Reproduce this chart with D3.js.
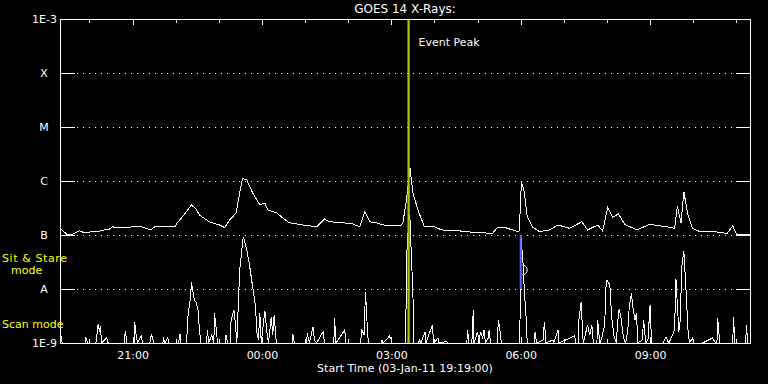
<!DOCTYPE html>
<html>
<head>
<meta charset="utf-8">
<script src="https://cdn.jsdelivr.net/npm/d3@7"></script>
<style>
  html, body { margin: 0; padding: 0; background: #000; }
  svg { display: block; color: #fff; }
  text { font-family: "DejaVu Sans", sans-serif; fill: #fff; }
</style>
</head>
<body>
<div id="grafica"></div>
<script>
var titulo = "GOES 14 X-Rays:";
var xTitulo = "Start Time (03-Jan-11 19:19:00)";
var startTime = new Date("2011-01-03T19:19:00Z");
var endMinute = 960;

var classLabels = ["1E-9", "A", "B", "C", "M", "X", "1E-3"];
var classFlux = [1e-9, 1e-8, 1e-7, 1e-6, 1e-5, 1e-4, 1e-3];

var eventPeakMinute = 485;
var eventLabel = "Event Peak";
var markerMinute = 641;
var markerRange = [1e-8, 1e-7];
var markerInner = [1e-8, 3.9e-8];
var markerPoint = 2.25e-8;
var modeLabels = ["Sit & Stare", "mode", "Scan mode"];

// [minutes after start, flux in 1e-9 W/m^2]
var longChannel = [[0,135],[4,119],[11,100],[19,105],[27,120],[34,110],[44,115],[52,115],[62,124],[69,129],[73,142],[80,135],[86,135],[100,141],[114,141],[122,129],[128,129],[132,142],[160,142],[162,160],[170,215],[176,270],[183,360],[189,303],[194,235],[201,202],[208,176],[222,153],[229,137],[236,190],[245,255],[250,600],[254,1120],[260,1040],[268,600],[278,360],[285,390],[289,290],[301,260],[310,206],[319,169],[338,153],[357,142],[368,198],[375,176],[393,169],[407,160],[417,142],[424,270],[431,176],[441,167],[455,147],[473,147],[477,167],[482,445],[487,1720],[491,600],[498,290],[507,142],[518,147],[531,124],[556,119],[580,110],[602,108],[609,139],[621,135],[637,115],[639,119],[642,970],[646,634],[650,218],[657,142],[667,115],[681,124],[693,153],[709,133],[726,176],[734,124],[748,153],[755,119],[762,320],[769,215],[777,245],[786,156],[803,124],[820,158],[844,142],[855,133],[859,344],[864,167],[868,634],[873,255],[880,133],[890,116],[914,114],[928,107],[936,147],[941,104],[960,100]];

var shortChannel = [[0,1.53],[2,1.24],[3,1],[35,1],[36,1.24],[39,1],[50,1],[53,2.2],[55,1.6],[56,2.07],[58,1],[65,1.24],[67,1],[89,1],[91,1.67],[93,1],[103,1],[104,2.42],[106,1.35],[108,1],[113,1.35],[115,1],[125,1],[127,1.41],[129,1.24],[130,1],[143,1],[144,1.19],[146,1],[150,1.24],[151,1],[165,1],[167,1.47],[168,1],[176,1],[178,3.07],[181,6.25],[183,13.2],[185,8.9],[187,6.25],[190,5.5],[191,4.4],[192,4.1],[194,1.74],[196,1],[204,1],[205,1.74],[207,1],[211,1.41],[214,1],[215,3.55],[218,1.53],[219,1],[230,1],[231,1.41],[233,1],[237,1],[238,2.67],[242,4.1],[244,2.32],[246,1],[250,22.5],[255,93],[260,52.7],[264,25.9],[268,11],[272,4.7],[274,1.53],[276,1.14],[278,3.64],[280,1],[285,3.96],[288,1.53],[290,1],[294,3.07],[296,1.41],[298,3.3],[301,1],[323,1],[324,1.45],[326,1],[343,1],[344,1.51],[347,1],[352,2.0],[354,1.14],[357,1],[366,1.62],[368,1],[381,1],[382,2.87],[384,1],[396,1.74],[398,1],[418,1],[420,1.74],[423,1.41],[425,8.9],[428,1.53],[429,1],[447,1],[448,1.14],[449,1],[456,1.22],[458,1.35],[461,1.14],[462,1],[481,1],[482,34.4],[484,100],[486,235],[487,190],[489,34.4],[491,9.6],[492,1],[499,1],[500,1.14],[502,1],[508,1.62],[509,1],[518,2.15],[520,1],[526,1.24],[527,1],[538,1.07],[539,1],[566,1],[567,1.74],[569,1],[573,1],[575,4.1],[576,1],[581,1.62],[583,1],[585,1.6],[588,1.24],[590,1.74],[592,1],[596,1.24],[597,1.74],[599,1],[608,1],[610,2.67],[612,1.74],[614,1],[639,1],[640,2.48],[641,100],[644,34.4],[646,9.6],[649,2.32],[650,1],[660,1],[661,1.62],[663,1],[672,1.14],[674,2.48],[676,1],[686,1.14],[687,1],[693,1.74],[694,1],[716,1.35],[718,1],[721,1],[722,2.67],[725,5.7],[727,1.74],[728,1],[734,2.15],[737,1.41],[740,2.15],[742,1],[747,1],[748,2.67],[751,1],[753,1.14],[758,2.15],[759,9.6],[761,14.7],[765,11.9],[766,6.25],[768,2.67],[771,1.29],[774,1],[776,2.59],[778,4.26],[781,2.67],[784,1.24],[787,1],[790,1.74],[792,4.7],[795,8.3],[797,4.7],[800,2.67],[802,3.55],[804,1],[810,1.14],[812,2.67],[815,1],[818,1.14],[821,5.06],[823,1],[839,1],[843,1.29],[847,1],[853,1.47],[855,1.74],[857,15.1],[861,1.62],[863,2.67],[865,25.9],[868,50.6],[871,9.6],[874,1.53],[876,1],[880,1.24],[882,1],[894,1],[908,1.24],[912,1],[914,1],[915,2.87],[918,1],[936,1],[937,3.07],[939,1],[954,1],[955,2.15],[957,1],[960,1]];

var ancho = 768, alto = 384;
var margen = { left: 60, right: 18, top: 19, bottom: 41 };

var svg = d3.select("#grafica").append("svg")
    .attr("width", ancho)
    .attr("height", alto);

svg.append("rect")
    .attr("width", ancho)
    .attr("height", alto)
    .attr("fill", "#000");

function tiempo(m) { return d3.utcMinute.offset(startTime, m); }

var x = d3.scaleUtc()
    .domain([startTime, tiempo(endMinute)])
    .range([margen.left, ancho - margen.right]);

var y = d3.scaleLog()
    .domain([classFlux[0], classFlux[classFlux.length - 1]])
    .range([alto - margen.bottom, margen.top]);

var x0 = margen.left, x1 = ancho - margen.right;
var y0 = alto - margen.bottom, y1 = margen.top;

// dotted grid at the class levels
svg.append("g").selectAll("line")
    .data(classFlux.slice(1, -1))
    .enter().append("line")
    .attr("x1", x0 + 17)
    .attr("x2", x1 - 14)
    .attr("y1", function (d) { return Math.round(y(d)) + 0.5; })
    .attr("y2", function (d) { return Math.round(y(d)) + 0.5; })
    .attr("stroke", "#fff")
    .attr("stroke-dasharray", "1,5")
    .attr("shape-rendering", "crispEdges");

svg.append("clipPath").attr("id", "recorte")
    .append("rect")
    .attr("x", x0).attr("y", y1)
    .attr("width", x1 - x0).attr("height", y0 - y1 + 1);

var linea = d3.line()
    .x(function (d) { return x(tiempo(d[0])); })
    .y(function (d) { return y(d[1] * 1e-9); });

var datos = svg.append("g").attr("clip-path", "url(#recorte)");

[shortChannel, longChannel].forEach(function (serie) {
    datos.append("path")
        .datum(serie)
        .attr("d", linea)
        .attr("fill", "none")
        .attr("stroke", "#fff")
        .attr("stroke-width", 1)
        .attr("shape-rendering", "crispEdges");
});

// event peak line
var xPeak = x(tiempo(eventPeakMinute));
svg.append("line")
    .attr("x1", xPeak).attr("x2", xPeak)
    .attr("y1", y1).attr("y2", y0)
    .attr("stroke", "#9acd00")
    .attr("stroke-width", 2.3);

svg.append("text")
    .attr("x", xPeak + 10)
    .attr("y", 46)
    .attr("font-size", 11)
    .text(eventLabel);

// sit & stare marker
var xMark = x(tiempo(markerMinute));
svg.append("line")
    .attr("x1", xMark).attr("x2", xMark)
    .attr("y1", y(markerRange[1])).attr("y2", y(markerRange[0]))
    .attr("stroke", "#6666ff")
    .attr("stroke-width", 2);
svg.append("line")
    .attr("x1", xMark + 0.8).attr("x2", xMark + 0.8)
    .attr("y1", y(markerInner[1])).attr("y2", y(markerInner[0]))
    .attr("stroke", "#d000d0")
    .attr("stroke-width", 1);
var semi = d3.path();
semi.arc(xMark + 1.5, y(markerPoint), 5, -Math.PI / 2, Math.PI / 2);
svg.append("path")
    .attr("d", semi.toString())
    .attr("fill", "none")
    .attr("stroke", "#fff");

// axes
var fmt = d3.utcFormat("%H:%M");
var hora = d3.utcHour.every(1);

var ejeArriba = svg.append("g")
    .attr("transform", "translate(0," + y1 + ")")
    .call(d3.axisBottom(x).ticks(hora).tickSize(4).tickFormat(""));
ejeArriba.selectAll(".tick line")
    .attr("y2", function (d) { return d.getUTCHours() % 3 === 0 ? 6 : 4; });

var ejeAbajo = svg.append("g")
    .attr("transform", "translate(0," + y0 + ")")
    .call(d3.axisBottom(x).ticks(hora).tickSize(-4)
        .tickFormat(function (d) { return d.getUTCHours() % 3 === 0 ? fmt(d) : ""; }));
ejeAbajo.selectAll(".tick line")
    .attr("y2", function (d) { return d.getUTCHours() % 3 === 0 ? -6 : -4; });
ejeAbajo.selectAll("text")
    .attr("y", 16).attr("dy", null)
    .attr("font-size", 11)
    .attr("font-family", "DejaVu Sans")
    .attr("fill", "#fff");

var ejeIzq = svg.append("g")
    .attr("transform", "translate(" + x0 + ",0)")
    .call(d3.axisLeft(y).tickValues(classFlux).tickSize(-15)
        .tickFormat(function (d, i) { return classLabels[i]; }));
ejeIzq.selectAll("text")
    .attr("font-size", 11)
    .attr("font-family", "DejaVu Sans")
    .attr("fill", "#fff")
    .attr("dy", "0.36em")
    .attr("text-anchor", function (d, i) { return classLabels[i].length > 1 ? "end" : "middle"; })
    .attr("x", function (d, i) { return classLabels[i].length > 1 ? -3 : -16; });

svg.append("g")
    .attr("transform", "translate(" + x1 + ",0)")
    .call(d3.axisRight(y).tickValues(classFlux).tickSize(-14).tickFormat(""));

svg.selectAll(".domain").remove();
svg.selectAll(".tick line").attr("stroke", "#fff").attr("shape-rendering", "crispEdges");

// frame
svg.append("rect")
    .attr("x", x0 + 0.5).attr("y", y1 + 0.5)
    .attr("width", x1 - x0).attr("height", y0 - y1)
    .attr("fill", "none")
    .attr("stroke", "#fff")
    .attr("shape-rendering", "crispEdges");

// texts
svg.append("text")
    .attr("x", (x0 + x1) / 2)
    .attr("y", 13)
    .attr("text-anchor", "middle")
    .attr("font-size", 12)
    .text(titulo);

svg.append("text")
    .attr("x", (x0 + x1) / 2)
    .attr("y", 372)
    .attr("text-anchor", "middle")
    .attr("font-size", 11)
    .text(xTitulo);

svg.append("g").selectAll("text")
    .data(modeLabels)
    .enter().append("text")
    .attr("x", function (d, i) { return i === 1 ? 11 : 2; })
    .attr("y", function (d, i) { return [262, 274, 328][i]; })
    .attr("font-size", 11)
    .attr("textLength", function (d, i) { return i === 0 ? 65 : null; })
    .attr("lengthAdjust", "spacing")
    .style("fill", "#ffff00")
    .text(function (d) { return d; });
</script>
</body>
</html>
